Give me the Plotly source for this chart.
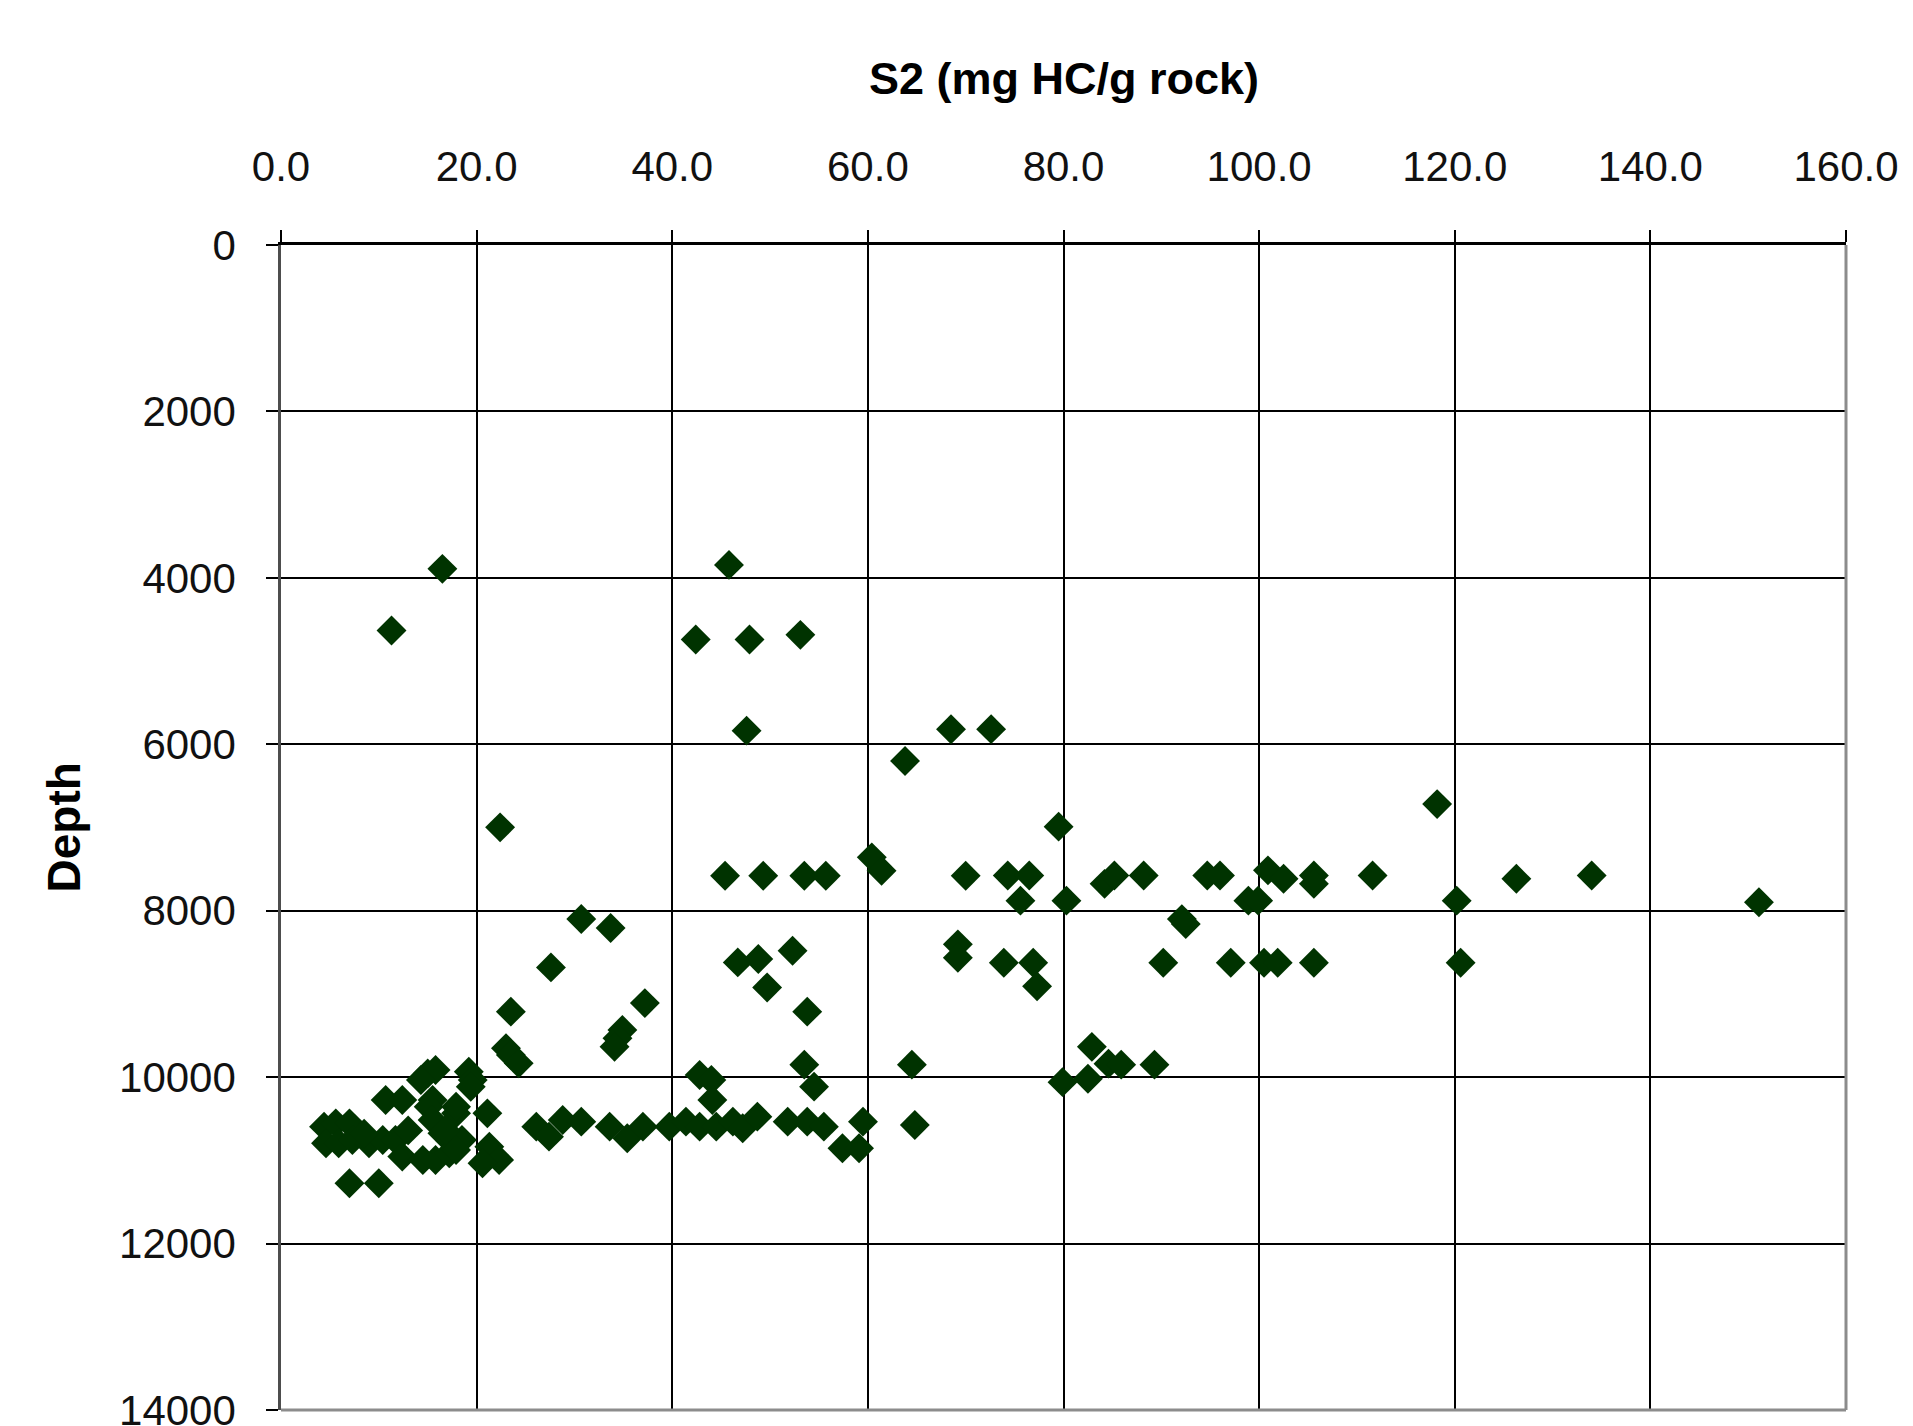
import plotly.graph_objects as go

# S2 pyrolysis yield (mg HC/g rock) against sample depth
s2 = [
    16.5, 11.3, 45.8, 42.4, 47.9, 53.1, 47.6, 68.5, 72.6, 63.8, 118.2, 22.4, 79.5,
    45.4, 49.3, 53.5, 55.7, 60.4, 61.4, 70.0, 74.3, 76.5, 75.6, 80.3, 84.2, 85.2,
    88.2, 94.7, 96.0, 98.9, 99.9, 100.9, 102.5, 105.6, 105.6, 111.6, 120.2, 126.3,
    134.0, 151.1,
    30.7, 33.7, 27.6, 46.7, 48.8, 52.3, 49.7, 69.2, 69.2, 73.9, 76.9, 77.3, 90.2,
    97.1, 100.5, 101.9, 105.6, 120.6, 92.1, 92.5,
    37.2, 23.5, 53.8, 34.9, 34.4, 34.1, 23.0, 23.5, 24.3, 53.5, 64.5, 82.9, 84.6,
    85.9, 89.3, 79.9, 82.5, 19.2, 19.6, 15.0, 15.8, 14.3,
    42.8, 44.0, 44.1, 54.5, 10.7, 12.4, 15.5, 15.1, 17.9, 21.1, 15.5, 4.4, 5.6,
    7.0, 4.6, 5.9, 7.3, 9.0, 10.4, 11.7, 12.4, 14.5, 16.5, 15.8, 17.2, 18.5, 21.3,
    22.3, 20.6, 7.0, 10.0, 26.1, 27.4, 28.8, 30.7, 33.6, 35.4, 37.0, 39.7, 41.4,
    42.8, 44.5, 46.2, 47.2, 48.7, 51.8, 53.8, 55.5, 59.5, 57.4, 59.1, 64.8, 16.8,
    17.9, 19.4, 17.9, 13.0, 8.5,
]
depth = [
    3892, 4633, 3844, 4741, 4741, 4685, 5836, 5820, 5818, 6200, 6719, 6998, 6990,
    7579, 7579, 7579, 7579, 7359, 7519, 7579, 7576, 7576, 7879, 7879, 7677, 7576,
    7576, 7576, 7576, 7879, 7879, 7515, 7616, 7576, 7677, 7576, 7879, 7616,
    7576, 7899,
    8100, 8208, 8681, 8621, 8581, 8481, 8922, 8404, 8565, 8626, 8626, 8909, 8626,
    8626, 8626, 8626, 8626, 8626, 8101, 8161,
    9110, 9213, 9213, 9433, 9533, 9634, 9653, 9733, 9834, 9850, 9850, 9636, 9838,
    9850, 9850, 10060, 10020, 9934, 10034, 9955, 9914, 10034,
    9974, 10034, 10275, 10114, 10275, 10275, 10275, 10355, 10435, 10435, 10515,
    10595, 10555, 10555, 10795, 10795, 10755, 10795, 10755, 10755, 10955, 10995,
    10675, 10995, 10915, 10755, 10835, 10995, 11035, 11276, 11276, 10595, 10715,
    10515, 10535, 10595, 10735, 10595, 10595, 10535, 10595, 10595, 10535, 10615,
    10475, 10535, 10535, 10595, 10535, 10855, 10855, 10575, 10635, 10875, 10115,
    10355, 10640, 10680,
]

x_ticks = [0, 20, 40, 60, 80, 100, 120, 140, 160]
y_ticks = [0, 2000, 4000, 6000, 8000, 10000, 12000, 14000]

FONT = "Liberation Sans, Arial, sans-serif"

fig = go.Figure(
    go.Scatter(
        x=s2,
        y=depth,
        mode="markers",
        marker=dict(symbol="diamond", size=23, color="#003300",
                    line=dict(width=0)),
        showlegend=False,
    )
)

fig.update_layout(
    width=1913,
    height=1426,
    margin=dict(l=281, r=67, t=245, b=16),
    paper_bgcolor="white",
    plot_bgcolor="white",
    font=dict(family=FONT, size=42, color="#111111"),
    annotations=[
        dict(text="<b>S2 (mg HC/g rock)</b>", xref="paper", yref="paper",
             x=0.5, y=1, yshift=194, showarrow=False,
             font=dict(family=FONT, size=45, color="#000000")),
        dict(text="<b>Depth</b>", xref="paper", yref="paper",
             x=0, xshift=-246, y=0.5, textangle=-90, showarrow=False,
             font=dict(family=FONT, size=46, color="#000000")),
    ],
    shapes=[
        # grey frame on the right and bottom edges of the plot area
        dict(type="line", xref="paper", yref="paper", x0=1, x1=1, y0=0, y1=1,
             line=dict(color="#8c8c8c", width=3)),
        dict(type="line", xref="paper", yref="paper", x0=0, x1=1, y0=0, y1=0,
             line=dict(color="#8c8c8c", width=3)),
    ],
)

fig.update_xaxes(
    side="top",
    range=[0, 160],
    tickvals=x_ticks,
    ticktext=[f"{v:.1f}" for v in x_ticks],
    ticks="outside",
    ticklen=12,
    tickwidth=1.5,
    tickcolor="#000000",
    ticklabelstandoff=32,
    ticklabeloverflow="allow",
    automargin=False,
    showline=True,
    linecolor="#000000",
    linewidth=2.5,
    showgrid=True,
    gridcolor="#000000",
    gridwidth=1.5,
    zeroline=False,
)

fig.update_yaxes(
    range=[14000, 0],
    tickvals=y_ticks,
    ticktext=[str(v) for v in y_ticks],
    ticks="outside",
    ticklen=12,
    tickwidth=1.5,
    tickcolor="#000000",
    ticklabelstandoff=22,
    ticklabeloverflow="allow",
    automargin=False,
    showline=True,
    linecolor="#4d4d4d",
    linewidth=2.5,
    showgrid=True,
    gridcolor="#000000",
    gridwidth=1.5,
    zeroline=False,
)

fig.write_html("out.html")
